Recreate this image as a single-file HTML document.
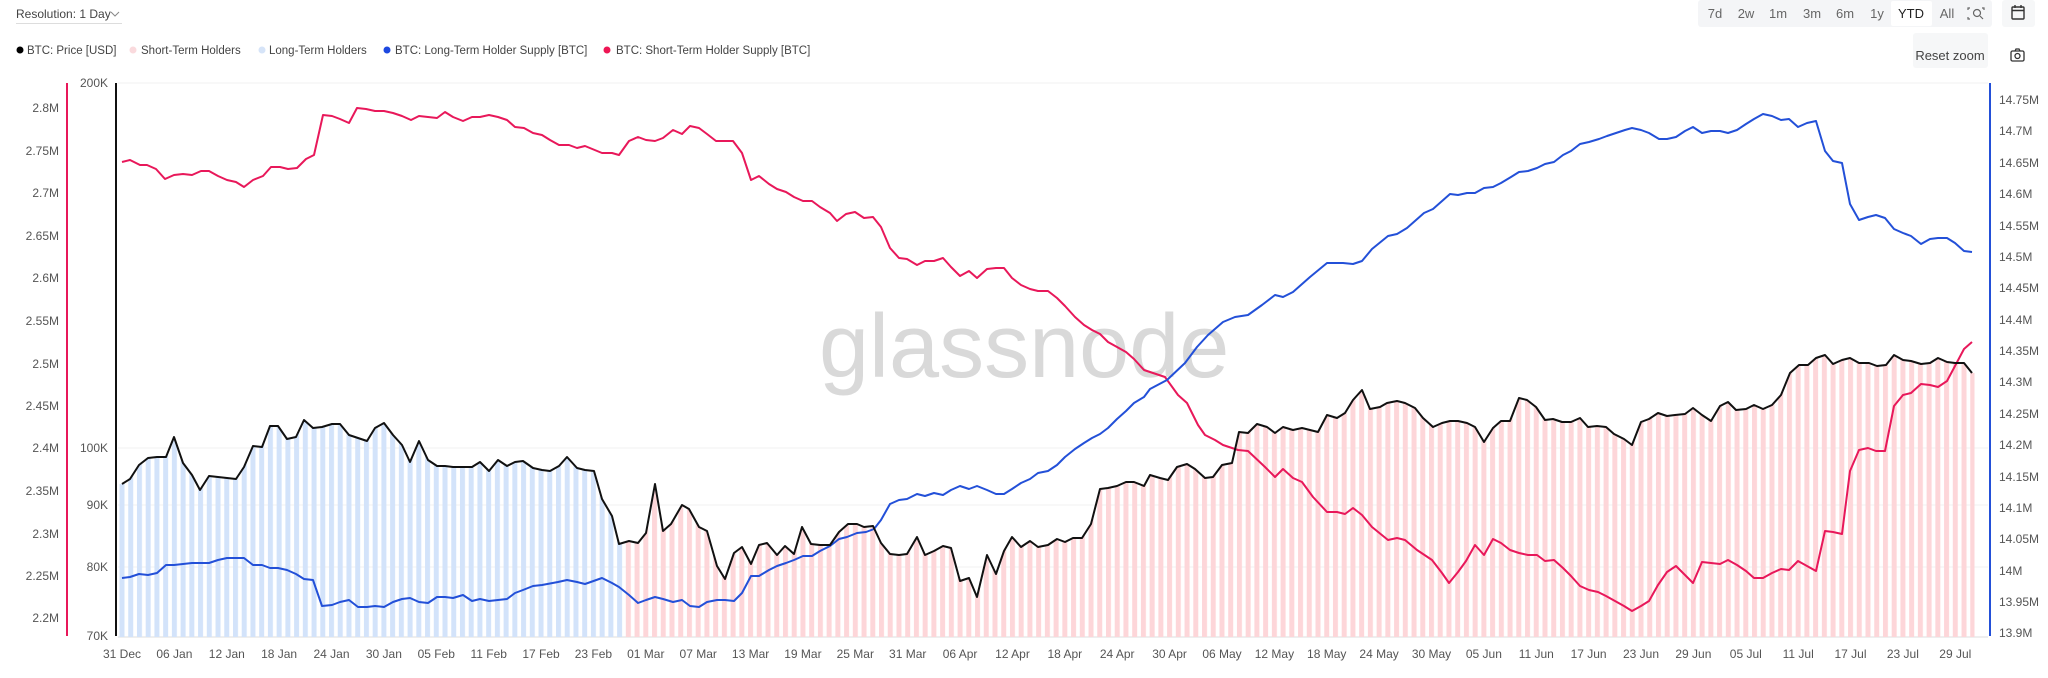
<!DOCTYPE html>
<html><head><meta charset="utf-8"><style>
body{margin:0;background:#fff;width:2048px;height:673px;overflow:hidden;font-family:"Liberation Sans",sans-serif}
svg text{font-family:"Liberation Sans",sans-serif}
</style></head><body>
<svg width="2048" height="673" viewBox="0 0 2048 673" xmlns="http://www.w3.org/2000/svg">
<defs>
<pattern id="pb" patternUnits="userSpaceOnUse" x="119.5" y="0" width="8.73" height="673"><rect x="0" y="0" width="5" height="673" fill="#d3e3fa"/></pattern>
<pattern id="pp" patternUnits="userSpaceOnUse" x="119.5" y="0" width="8.73" height="673"><rect x="0" y="0" width="5" height="673" fill="#fdd6d9"/></pattern>
<clipPath id="cb"><rect x="0" y="0" width="624" height="673"/></clipPath>
<clipPath id="cp"><rect x="624" y="0" width="1424" height="673"/></clipPath>
</defs>
<!-- header -->
<text x="16" y="18" font-size="12" fill="#444">Resolution: 1 Day</text>
<path d="M111 12 l4 4 l4 -4" fill="none" stroke="#888" stroke-width="1"/>
<line x1="16" y1="23.5" x2="122" y2="23.5" stroke="#ddd"/>
<rect x="1698" y="0" width="294" height="27" rx="3" fill="#f4f5f7"/>
<rect x="1891" y="1" width="41" height="25" rx="2" fill="#fff"/>
<g font-size="13" fill="#666" text-anchor="middle">
<text x="1715" y="18">7d</text><text x="1746" y="18">2w</text><text x="1778" y="18">1m</text><text x="1812" y="18">3m</text><text x="1845" y="18">6m</text><text x="1877" y="18">1y</text><text x="1911" y="18" fill="#222">YTD</text><text x="1947" y="18">All</text>
</g>
<g fill="none" stroke="#666" stroke-width="1.2">
<path d="M1970 8 h-2 v2 M1982 8 h2 v2 M1968 17 v2 h2"/><circle cx="1977" cy="13" r="3.5"/><path d="M1980 16 l3 3"/>
</g>
<rect x="2002" y="0" width="33" height="27" rx="3" fill="#f6f7f8"/>
<g fill="none" stroke="#333" stroke-width="1.4"><rect x="2012" y="7" width="12" height="12" rx="1"/><path d="M2012 10.5 h12 M2015 5 v3 M2021 5 v3"/></g>
<rect x="1913" y="33" width="75" height="35" rx="3" fill="#f6f7f8"/>
<text x="1950" y="60" font-size="13" fill="#444" text-anchor="middle">Reset zoom</text>
<g fill="none" stroke="#333" stroke-width="1.3"><rect x="2011" y="51" width="13" height="10" rx="1.5"/><circle cx="2017.5" cy="56" r="2.5"/><path d="M2015 51 l1 -2 h3 l1 2"/></g>
<!-- legend -->
<g font-size="11.5" fill="#444">
<circle cx="20" cy="50" r="3.5" fill="#000"/><text x="27" y="54">BTC: Price [USD]</text>
<circle cx="133" cy="50" r="3.5" fill="#fadadd"/><text x="141" y="54">Short-Term Holders</text>
<circle cx="262" cy="50" r="3.5" fill="#d6e4f8"/><text x="269" y="54">Long-Term Holders</text>
<circle cx="387" cy="50" r="3.5" fill="#1d48e0"/><text x="395" y="54">BTC: Long-Term Holder Supply [BTC]</text>
<circle cx="607" cy="50" r="3.5" fill="#ee1654"/><text x="616" y="54">BTC: Short-Term Holder Supply [BTC]</text>
</g>
<!-- grid -->
<g stroke="#f0f0f0" stroke-width="1">
<line x1="118" y1="83" x2="1988" y2="83"/><line x1="118" y1="448" x2="1988" y2="448"/><line x1="118" y1="505" x2="1988" y2="505"/><line x1="118" y1="567" x2="1988" y2="567"/>
</g>
<line x1="118" y1="637" x2="1988" y2="637" stroke="#ddd"/>
<!-- watermark -->
<text x="819" y="377" font-size="90" fill="#d9d9d9">glassnode</text>
<!-- bars -->
<g id="area">
<polygon clip-path="url(#cb)" fill="url(#pb)" points="119.5,637 119.5,484 122,484 130,479 139,465 148,458 157,457 166,457 174,437 183,463 192,475 200,490 209,476 218,477 227,478 236,479 244,467 253,446 262,447 270,426 278,426 287,439 296,437 304,420 313,428 322,427 332,424 340,424 349,435 358,438 367,441 375,428 384,423 393,435 402,445 410,462 419,441 428,460 437,466 445,466 453,467 463,467 472,467 480,462 489,471 498,460 507,466 515,462 523,461 533,468 542,470 550,471 559,466 567,457 577,468 585,470 594,471 602,499 612,516 619,544 629,541 640,543 640,637"/>
<polygon clip-path="url(#cp)" fill="url(#pp)" points="610,637 619,544 629,541 638,543 646,533 655,484 663,531 671,524 682,505 689,509 699,527 707,531 717,566 725,579 734,553 742,547 751,564 759,545 767,543 777,555 785,546 794,554 802,527 811,544 820,545 830,545 839,532 848,524 857,524 864,527 873,526 881,543 890,554 899,555 907,554 917,537 925,555 934,551 943,546 951,548 960,581 969,578 977,597 987,555 996,574 1004,551 1012,537 1021,547 1030,541 1038,547 1048,545 1057,539 1065,542 1073,538 1082,538 1091,524 1100,489 1108,488 1117,486 1126,482 1134,482 1144,486 1150,475 1160,478 1168,480 1177,467 1187,464 1195,469 1205,478 1213,477 1222,465 1232,463 1239,432 1248,433 1257,424 1267,427 1275,433 1283,427 1293,430 1302,428 1310,430 1318,432 1327,415 1337,418 1345,413 1353,400 1362,390 1370,409 1380,407 1387,403 1397,401 1405,403 1415,408 1423,418 1433,427 1442,423 1450,421 1458,421 1467,423 1475,427 1484,442 1493,428 1501,421 1510,421 1519,398 1527,400 1536,407 1545,420 1553,419 1562,422 1571,422 1580,418 1588,427 1597,426 1606,427 1614,434 1624,439 1632,445 1641,422 1649,419 1658,413 1667,416 1675,415 1685,414 1693,408 1702,415 1711,421 1720,406 1728,402 1736,410 1746,409 1754,405 1763,409 1772,405 1781,395 1790,373 1799,365 1808,365 1816,358 1825,355 1833,364 1842,360 1850,358 1859,363 1869,363 1877,366 1886,365 1894,355 1903,360 1911,361 1921,364 1930,363 1938,358 1947,362 1955,363 1964,363 1972,373 1974.5,373 1974.5,637"/>
</g>
<!-- series -->
<g fill="none" stroke-width="2" stroke-linejoin="round">
<polyline stroke="#e8185a" points="122,162 130,160 140,165 147,165 156,169 165,179 174,175 183,174 192,175 201,171 209,171 218,176 227,180 236,182 244,187 253,180 263,176 271,167 280,167 288,169 297,168 306,159 314,155 323,115 332,116 340,119 349,123 357,108 366,109 375,111 384,111 393,113 402,116 411,120 419,116 428,117 437,118 445,112 453,117 463,121 472,117 480,117 489,115 498,117 507,120 515,127 524,128 533,133 542,135 550,140 559,145 569,145 577,148 585,146 602,153 612,153 619,155 629,141 638,137 646,140 655,141 663,138 673,130 682,134 690,126 699,128 707,134 716,141 733,141 742,153 751,180 759,176 769,184 777,189 786,192 794,197 803,201 812,201 820,207 830,213 837,221 846,214 855,212 864,218 873,217 881,227 890,248 899,258 907,259 917,265 925,261 934,261 943,258 951,267 960,276 969,271 977,278 987,269 996,268 1004,268 1012,278 1021,285 1030,289 1038,291 1048,291 1057,298 1065,306 1075,317 1084,325 1092,330 1100,334 1108,342 1117,347 1126,352 1134,359 1144,370 1150,372 1165,377 1178,395 1187,403 1198,425 1205,435 1215,440 1223,445 1238,450 1248,451 1265,467 1275,477 1283,469 1293,478 1302,482 1313,497 1327,512 1337,512 1345,514 1353,508 1362,515 1372,527 1388,540 1397,538 1405,540 1417,550 1432,560 1442,573 1449,583 1458,572 1466,561 1475,545 1484,555 1493,539 1501,543 1510,550 1519,553 1528,555 1537,555 1545,561 1554,560 1563,568 1571,576 1580,586 1589,590 1598,592 1606,596 1615,601 1624,606 1632,611 1641,606 1649,601 1658,585 1667,572 1676,566 1685,575 1693,583 1702,562 1711,563 1720,564 1728,560 1737,565 1746,571 1754,578 1763,578 1772,573 1781,569 1789,570 1798,561 1807,566 1816,571 1825,531 1833,532 1842,534 1850,471 1859,450 1868,448 1876,451 1885,451 1894,406 1903,395 1911,393 1921,384 1930,385 1938,387 1947,381 1955,366 1964,349 1972,342"/>
<polyline stroke="#2350d8" points="122,578 130,577 139,574 148,575 157,573 166,565 174,565 183,564 192,563 200,563 209,563 218,560 227,558 236,558 244,558 253,565 262,565 270,568 278,568 287,570 296,574 304,579 313,580 322,606 332,605 340,602 349,600 358,607 367,607 375,606 384,607 393,602 402,599 410,598 419,602 428,603 437,597 445,597 453,598 463,595 472,601 480,599 489,601 507,599 515,593 523,590 533,586 542,585 558,582 567,580 577,582 585,584 602,578 612,583 619,587 629,595 638,603 646,600 655,597 663,599 673,602 682,600 690,606 699,607 707,602 717,600 725,600 734,601 742,593 751,576 759,576 769,570 777,566 786,563 794,560 803,556 812,556 820,551 830,546 839,539 847,537 857,533 866,532 874,529 881,520 890,504 899,500 907,499 917,494 925,496 934,493 943,495 951,490 960,486 969,489 977,486 987,490 996,494 1004,494 1012,489 1021,483 1030,479 1038,473 1048,471 1057,465 1065,457 1075,449 1084,443 1092,438 1100,434 1108,428 1117,419 1126,411 1134,403 1144,397 1150,389 1167,380 1185,363 1197,347 1208,335 1223,322 1235,317 1248,315 1262,305 1275,295 1283,297 1293,292 1310,277 1327,263 1343,263 1353,264 1362,261 1372,249 1388,236 1397,234 1407,228 1424,213 1433,209 1450,194 1458,195 1467,193 1475,193 1484,188 1493,187 1501,183 1511,177 1519,172 1528,171 1537,168 1545,164 1554,162 1563,155 1571,151 1580,144 1589,142 1599,139 1607,136 1616,133 1625,130 1632,128 1641,130 1649,133 1659,139 1667,139 1676,137 1685,131 1693,127 1702,133 1711,131 1720,131 1728,133 1737,130 1746,124 1754,119 1763,114 1772,116 1781,120 1789,119 1798,127 1807,123 1816,121 1825,151 1833,161 1842,163 1850,204 1859,220 1868,217 1876,215 1885,218 1894,229 1903,233 1911,236 1921,244 1930,239 1938,238 1947,238 1955,243 1964,251 1972,252"/>
<polyline stroke="#111" points="122,484 130,479 139,465 148,458 157,457 166,457 174,437 183,463 192,475 200,490 209,476 218,477 227,478 236,479 244,467 253,446 262,447 270,426 278,426 287,439 296,437 304,420 313,428 322,427 332,424 340,424 349,435 358,438 367,441 375,428 384,423 393,435 402,445 410,462 419,441 428,460 437,466 445,466 453,467 463,467 472,467 480,462 489,471 498,460 507,466 515,462 523,461 533,468 542,470 550,471 559,466 567,457 577,468 585,470 594,471 602,499 612,516 619,544 629,541 638,543 646,533 655,484 663,531 671,524 682,505 689,509 699,527 707,531 717,566 725,579 734,553 742,547 751,564 759,545 767,543 777,555 785,546 794,554 802,527 811,544 820,545 830,545 839,532 848,524 857,524 864,527 873,526 881,543 890,554 899,555 907,554 917,537 925,555 934,551 943,546 951,548 960,581 969,578 977,597 987,555 996,574 1004,551 1012,537 1021,547 1030,541 1038,547 1048,545 1057,539 1065,542 1073,538 1082,538 1091,524 1100,489 1108,488 1117,486 1126,482 1134,482 1144,486 1150,475 1160,478 1168,480 1177,467 1187,464 1195,469 1205,478 1213,477 1222,465 1232,463 1239,432 1248,433 1257,424 1267,427 1275,433 1283,427 1293,430 1302,428 1310,430 1318,432 1327,415 1337,418 1345,413 1353,400 1362,390 1370,409 1380,407 1387,403 1397,401 1405,403 1415,408 1423,418 1433,427 1442,423 1450,421 1458,421 1467,423 1475,427 1484,442 1493,428 1501,421 1510,421 1519,398 1527,400 1536,407 1545,420 1553,419 1562,422 1571,422 1580,418 1588,427 1597,426 1606,427 1614,434 1624,439 1632,445 1641,422 1649,419 1658,413 1667,416 1675,415 1685,414 1693,408 1702,415 1711,421 1720,406 1728,402 1736,410 1746,409 1754,405 1763,409 1772,405 1781,395 1790,373 1799,365 1808,365 1816,358 1825,355 1833,364 1842,360 1850,358 1859,363 1869,363 1877,366 1886,365 1894,355 1903,360 1911,361 1921,364 1930,363 1938,358 1947,362 1955,363 1964,363 1972,373"/>
</g>
<!-- axes -->
<line x1="67" y1="83" x2="67" y2="636" stroke="#e8185a" stroke-width="2"/>
<line x1="116" y1="83" x2="116" y2="636" stroke="#111" stroke-width="2"/>
<line x1="1990" y1="83" x2="1990" y2="636" stroke="#2350d8" stroke-width="2"/>
<g font-size="12" fill="#555" text-anchor="end">
<text x="59" y="112">2.8M</text><text x="59" y="155">2.75M</text><text x="59" y="197">2.7M</text><text x="59" y="240">2.65M</text><text x="59" y="282">2.6M</text><text x="59" y="325">2.55M</text><text x="59" y="368">2.5M</text><text x="59" y="410">2.45M</text><text x="59" y="452">2.4M</text><text x="59" y="495">2.35M</text><text x="59" y="538">2.3M</text><text x="59" y="580">2.25M</text><text x="59" y="622">2.2M</text>
<text x="108" y="87">200K</text><text x="108" y="452">100K</text><text x="108" y="509">90K</text><text x="108" y="571">80K</text><text x="108" y="640">70K</text>
</g>
<g font-size="12" fill="#555">
<text x="1999" y="104">14.75M</text><text x="1999" y="135">14.7M</text><text x="1999" y="167">14.65M</text><text x="1999" y="198">14.6M</text><text x="1999" y="230">14.55M</text><text x="1999" y="261">14.5M</text><text x="1999" y="292">14.45M</text><text x="1999" y="324">14.4M</text><text x="1999" y="355">14.35M</text><text x="1999" y="386">14.3M</text><text x="1999" y="418">14.25M</text><text x="1999" y="449">14.2M</text><text x="1999" y="481">14.15M</text><text x="1999" y="512">14.1M</text><text x="1999" y="543">14.05M</text><text x="1999" y="575">14M</text><text x="1999" y="606">13.95M</text><text x="1999" y="637">13.9M</text>
</g>
<g font-size="12" fill="#555" text-anchor="middle">
<text x="122" y="658">31 Dec</text><text x="174.4" y="658">06 Jan</text><text x="226.8" y="658">12 Jan</text><text x="279.1" y="658">18 Jan</text><text x="331.5" y="658">24 Jan</text><text x="383.9" y="658">30 Jan</text><text x="436.3" y="658">05 Feb</text><text x="488.7" y="658">11 Feb</text><text x="541" y="658">17 Feb</text><text x="593.4" y="658">23 Feb</text><text x="645.8" y="658">01 Mar</text><text x="698.2" y="658">07 Mar</text><text x="750.6" y="658">13 Mar</text><text x="802.9" y="658">19 Mar</text><text x="855.3" y="658">25 Mar</text><text x="907.7" y="658">31 Mar</text><text x="960.1" y="658">06 Apr</text><text x="1012.5" y="658">12 Apr</text><text x="1064.8" y="658">18 Apr</text><text x="1117.2" y="658">24 Apr</text><text x="1169.6" y="658">30 Apr</text><text x="1222" y="658">06 May</text><text x="1274.4" y="658">12 May</text><text x="1326.7" y="658">18 May</text><text x="1379.1" y="658">24 May</text><text x="1431.5" y="658">30 May</text><text x="1483.9" y="658">05 Jun</text><text x="1536.3" y="658">11 Jun</text><text x="1588.6" y="658">17 Jun</text><text x="1641" y="658">23 Jun</text><text x="1693.4" y="658">29 Jun</text><text x="1745.8" y="658">05 Jul</text><text x="1798.2" y="658">11 Jul</text><text x="1850.5" y="658">17 Jul</text><text x="1902.9" y="658">23 Jul</text><text x="1955.3" y="658">29 Jul</text>
</g>
</svg>
</body></html>
